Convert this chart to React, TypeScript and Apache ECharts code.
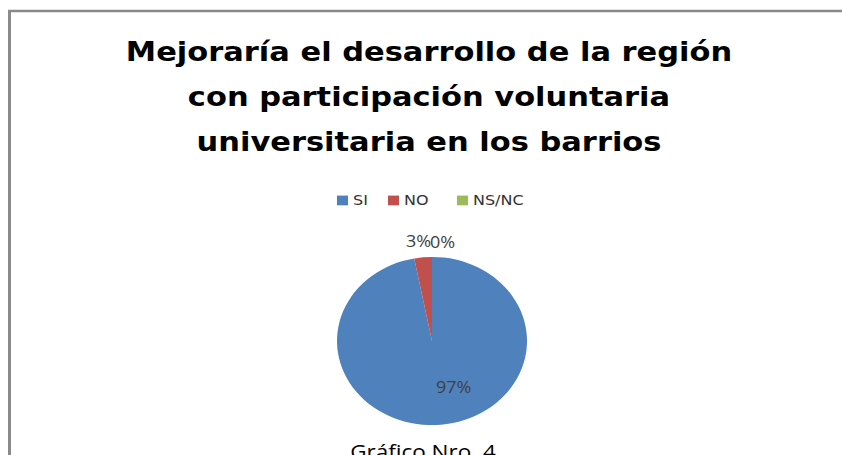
import React, { useEffect, useRef } from "react";
import * as echarts from "echarts";

const TITLE_LINES = [
  "Mejoraría el desarrollo de la región",
  "con participación voluntaria",
  "universitaria en los barrios",
];
const CATEGORIES = ["SI", "NO", "NS/NC"];
const VALUES = [97, 3, 0];
const COLORS = ["#4F81BD", "#C0504D", "#9BBB59"];
const CAPTION = "Gráfico Nro. 4";

const W = 842;
const VIEW_H = 455;
const SY = 0.885; // vertical squash of the reference picture
const H = Math.round(VIEW_H / SY);

// label nudges (dx, dy) and alignment, per data index
const LABEL_NUDGE: { dx: number; dy: number; align?: string }[] = [
  { dx: 17, dy: 2 },
  { dx: 8, dy: -18 },
  { dx: -2, dy: -17, align: "left" },
];
const LEGEND_LEFT = [337, 388, 457];

export default function App() {
  const ref = useRef<HTMLDivElement>(null);
  useEffect(() => {
    if (!ref.current) return;
    const chart = echarts.init(ref.current, null, { renderer: "svg" });
    const font = "'Open Sans', 'DejaVu Sans', sans-serif";
    const wide = "'DejaVu Sans', sans-serif";
    const option: any = {
      animation: false,
      backgroundColor: "#ffffff",
      title: [
        {
          text: TITLE_LINES.join("\n"),
          left: 429,
          top: 33,
          padding: 0,
          textAlign: "center",
          textStyle: {
            fontFamily: wide,
            fontWeight: "bold",
            fontSize: 30.5,
            lineHeight: 51,
            color: "#000000",
          },
        },
        {
          text: CAPTION,
          left: 423,
          top: 498,
          padding: 0,
          textAlign: "center",
          textStyle: {
            fontFamily: font,
            fontWeight: "normal",
            fontSize: 22.5,
            color: "#000000",
          },
        },
      ],
      legend: CATEGORIES.map((c, i) => ({
        data: [c],
        left: LEGEND_LEFT[i],
        top: 218.5,
        padding: 0,
        itemWidth: 11,
        itemHeight: 11,
        icon: "rect",
        selectedMode: false,
        textStyle: { fontFamily: wide, fontSize: 16, color: "#333333" },
      })),
      graphic: [
        {
          type: "rect",
          shape: { x: 9.5, y: 12.4, width: 1000, height: 1000 },
          style: { fill: "none", stroke: "#8a8a8a", lineWidth: 3 },
          silent: true,
        },
      ],
      series: [
        {
          type: "pie",
          center: [432, 385.3],
          radius: 95,
          startAngle: 90,
          clockwise: true,
          avoidLabelOverlap: false,
          percentPrecision: 0,
          itemStyle: { borderWidth: 0 },
          label: {
            show: true,
            position: "outside",
            formatter: "{d}%",
            fontFamily: font,
            fontSize: 18,
            color: "#404040",
            distanceToLabelLine: 0,
          },
          labelLine: { show: false, length: 0, length2: 0 },
          labelLayout: (p: any) => {
            const n = LABEL_NUDGE[p.dataIndex];
            const r: any = { dx: n.dx, dy: n.dy };
            if (n.align) r.align = n.align;
            return r;
          },
          emphasis: { disabled: true },
          data: CATEGORIES.map((c, i) => ({
            name: c,
            value: VALUES[i],
            itemStyle: { color: COLORS[i] },
            label: i === 0 ? { position: "inside" } : undefined,
          })),
        },
      ],
    };
    chart.setOption(option);
    return () => chart.dispose();
  }, []);
  return (
    <div
      style={{
        position: "fixed",
        left: 0,
        top: 0,
        width: W,
        height: VIEW_H,
        overflow: "hidden",
        background: "#ffffff",
      }}
    >
      <div
        ref={ref}
        style={{
          width: W,
          height: H,
          transform: `scaleY(${SY})`,
          transformOrigin: "0 0",
        }}
      />
    </div>
  );
}
